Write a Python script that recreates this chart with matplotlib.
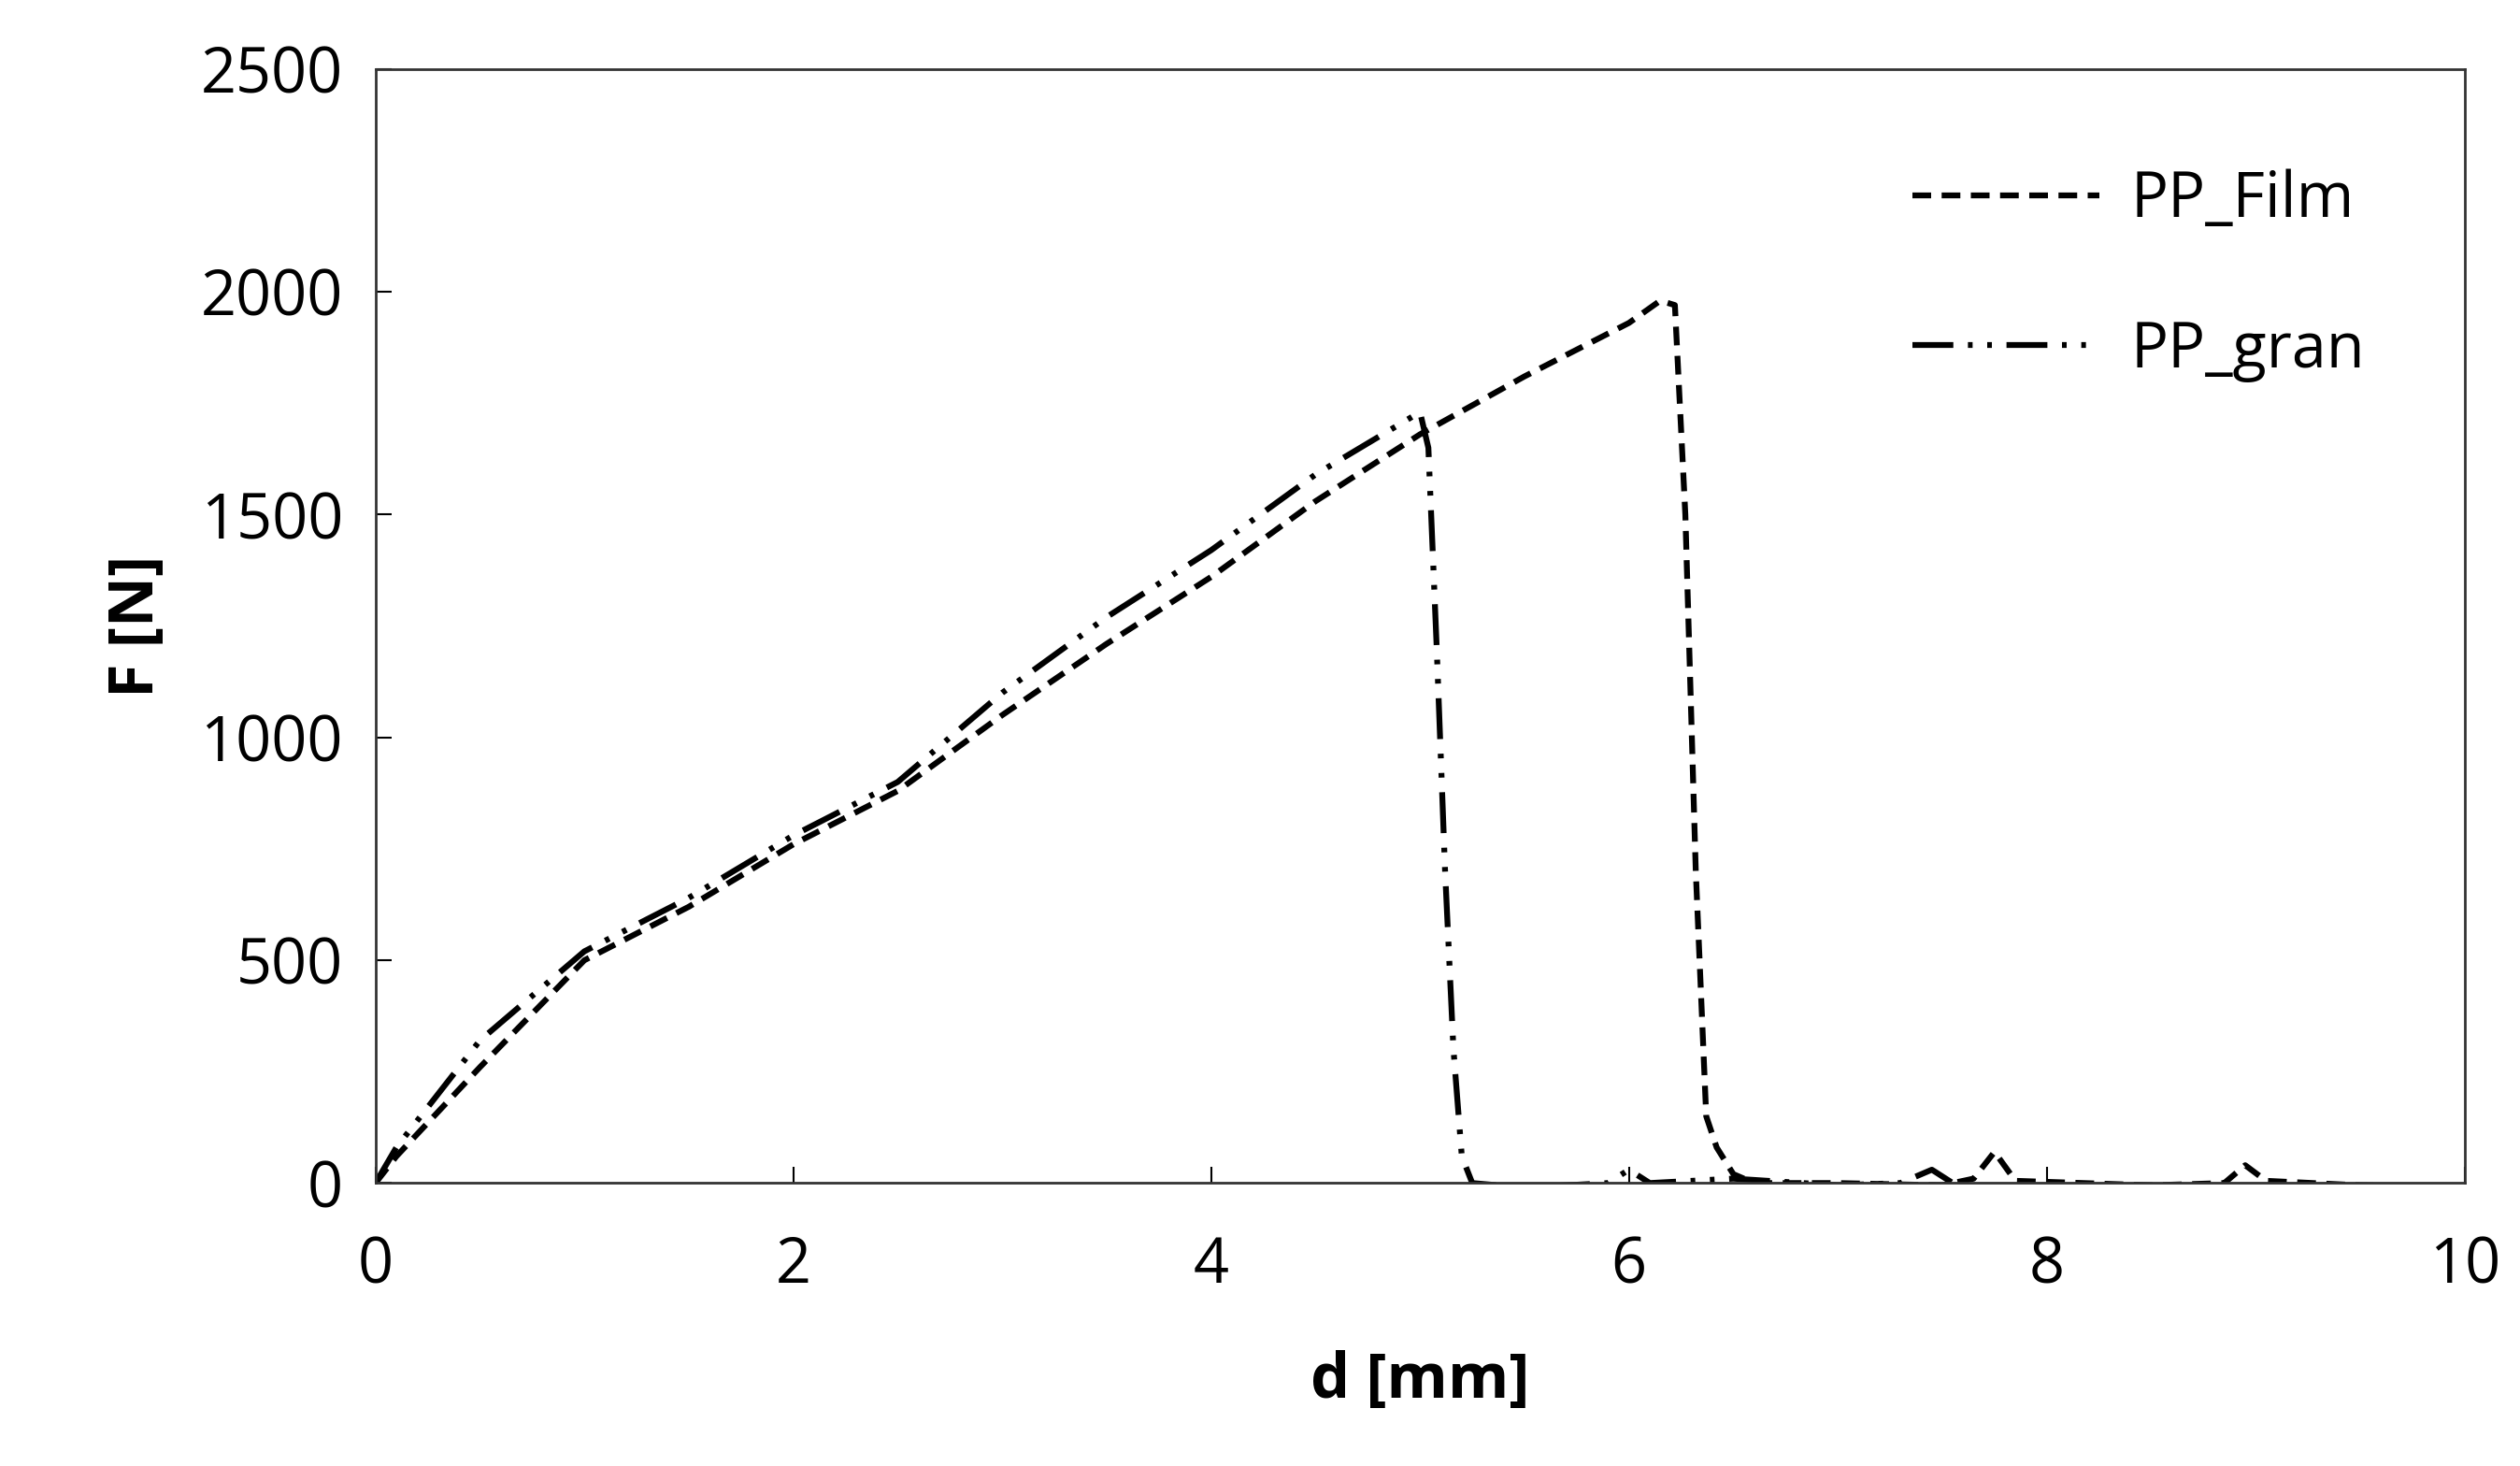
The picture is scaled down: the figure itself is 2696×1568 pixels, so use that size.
import matplotlib
matplotlib.use("Agg")
import matplotlib.pyplot as plt

plt.rcParams['font.family'] = ['Open Sans', 'DejaVu Sans']

# PP_Film curve
film_d = [0, 0.1, 0.5, 1.0, 1.5, 2.0, 2.5, 3.0, 3.5, 4.0, 4.5, 5.0, 5.5, 6.0, 6.15, 6.22, 6.27, 6.32, 6.37, 6.42, 6.5, 6.6,
          7.0, 7.5, 7.65, 7.75, 7.85, 8.5, 8.85, 8.95, 9.05, 9.5, 10.0]
film_F = [0, 60, 260, 500, 620, 760, 880, 1050, 1210, 1360, 1530, 1680, 1810, 1930, 1980, 1970, 1500, 700, 150, 80, 20, 0,
          0, -5, 10, 70, 5, -5, 0, 40, 5, -5, -10]

# PP_gran curve
gran_d = [0, 0.1, 0.5, 1.0, 1.5, 2.0, 2.5, 3.0, 3.5, 4.0, 4.5, 5.0, 5.04, 5.08, 5.12, 5.16, 5.2, 5.25,
          5.5, 5.9, 6.0, 6.1, 6.5, 7.0, 7.3, 7.45, 7.55]
gran_F = [0, 80, 320, 520, 640, 780, 900, 1100, 1270, 1420, 1590, 1730, 1650, 1200, 700, 300, 60, 0,
          -10, 0, 30, 0, 10, -5, 0, 30, 0]

fig = plt.figure(figsize=(26.96, 15.68), dpi=100)
ax = fig.add_axes([0.149, 0.193, 0.829, 0.76])

ax.plot(film_d, film_F, color='black', lw=4.5, dashes=(3.2, 1.8), label='PP_Film')
ax.plot(gran_d, gran_F, color='black', lw=4.5, dashes=(7, 2.5, 0.8, 2.5, 0.8, 2.5), label='PP_gran')

ax.set_xlim(0, 10)
ax.set_ylim(0, 2500)
ax.set_xticks(range(0, 11, 2))
ax.set_yticks(range(0, 2501, 500))
ax.tick_params(labelsize=48, direction='in', length=12, width=1.5)
ax.tick_params(axis='x', pad=40)
ax.tick_params(axis='y', pad=25)
for s in ax.spines.values():
    s.set_linewidth(2)
    s.set_color('#333333')

ax.set_xlabel('d [mm]', fontsize=48, fontweight='bold', labelpad=40)
ax.set_ylabel('F [N]', fontsize=48, fontweight='bold', labelpad=25)

ax.legend(loc='upper right', fontsize=48, frameon=False, handlelength=3.0,
          labelspacing=1.4, borderaxespad=1.2, handletextpad=0.5)

fig.savefig('out.png', dpi=100)
